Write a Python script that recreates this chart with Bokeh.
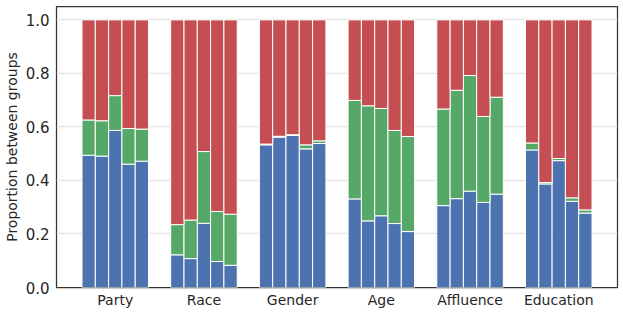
from bokeh.plotting import figure
from bokeh.models import FixedTicker, Range1d, ColumnDataSource
from bokeh.embed import file_html
from bokeh.resources import INLINE

categories = ["Party", "Race", "Gender", "Age", "Affluence", "Education"]

# share of each of the 5 subgroups per category (blue, green, red stack)
blue = [
    [0.494, 0.491, 0.587, 0.461, 0.472],   # Party
    [0.122, 0.108, 0.240, 0.097, 0.083],   # Race
    [0.533, 0.562, 0.568, 0.518, 0.538],   # Gender
    [0.331, 0.249, 0.268, 0.239, 0.209],   # Age
    [0.306, 0.332, 0.360, 0.318, 0.349],   # Affluence
    [0.514, 0.387, 0.474, 0.322, 0.278],   # Education
]
green = [
    [0.132, 0.132, 0.130, 0.133, 0.120],
    [0.113, 0.144, 0.268, 0.187, 0.191],
    [0.003, 0.003, 0.003, 0.015, 0.010],
    [0.368, 0.430, 0.401, 0.348, 0.355],
    [0.361, 0.405, 0.432, 0.321, 0.362],
    [0.026, 0.005, 0.008, 0.013, 0.012],
]
red = [
    [0.374, 0.377, 0.283, 0.406, 0.408],
    [0.765, 0.748, 0.492, 0.716, 0.726],
    [0.464, 0.435, 0.429, 0.467, 0.452],
    [0.301, 0.321, 0.331, 0.413, 0.436],
    [0.333, 0.263, 0.208, 0.361, 0.289],
    [0.460, 0.608, 0.518, 0.665, 0.710],
]
ticks_y = [0.0, 0.2, 0.4, 0.6, 0.8, 1.0]

colors = ["#4c72b0", "#55a868", "#c44e52"]
bar_w = 0.15
offsets = [-0.30, -0.15, 0.0, 0.15, 0.30]

xs, b_top, g_bot, g_top, r_bot, r_top = [], [], [], [], [], []
for gi in range(len(categories)):
    for j in range(5):
        xs.append(gi + offsets[j])
        b = blue[gi][j]
        g = green[gi][j]
        r = red[gi][j]
        b_top.append(b)
        g_bot.append(b)
        g_top.append(b + g)
        r_bot.append(b + g)
        r_top.append(b + g + r)

src = ColumnDataSource(dict(x=xs, b_top=b_top, g_bot=g_bot, g_top=g_top,
                            r_bot=r_bot, r_top=r_top, zero=[0.0] * len(xs)))

p = figure(width=623, height=314, output_backend="svg", toolbar_location=None,
           x_range=Range1d(-0.6625, 5.6625), y_range=Range1d(0, 1.05),
           min_border_left=54, min_border_right=6, min_border_top=6, min_border_bottom=27)

p.vbar(x="x", bottom="zero", top="b_top", width=bar_w, source=src,
       fill_color=colors[0], line_color="white", line_width=1)
p.vbar(x="x", bottom="g_bot", top="g_top", width=bar_w, source=src,
       fill_color=colors[1], line_color="white", line_width=1)
p.vbar(x="x", bottom="r_bot", top="r_top", width=bar_w, source=src,
       fill_color=colors[2], line_color="white", line_width=1)

p.xaxis.ticker = FixedTicker(ticks=list(range(len(categories))))
p.xaxis.major_label_overrides = {i: c for i, c in enumerate(categories)}
p.yaxis.ticker = FixedTicker(ticks=ticks_y)
p.yaxis.major_label_overrides = {t: f"{t:.1f}" for t in ticks_y}
p.yaxis.axis_label = "Proportion between groups"

for ax in (p.xaxis[0], p.yaxis[0]):
    ax.axis_line_color = None
    ax.major_tick_line_color = None
    ax.minor_tick_line_color = None
    ax.major_tick_out = 0
    ax.major_tick_in = 0
    ax.minor_tick_out = 0
    ax.minor_tick_in = 0
    ax.major_label_text_font = "DejaVu Sans"
    ax.major_label_text_color = "#262626"
p.xaxis.major_label_text_font_size = "14px"
p.yaxis.major_label_text_font_size = "15px"
p.xaxis.major_label_standoff = 4
p.xaxis.axis_label_standoff = 0
p.yaxis.major_label_standoff = 7
p.yaxis.axis_label_text_font = "DejaVu Sans"
p.yaxis.axis_label_text_font_size = "14px"
p.yaxis.axis_label_text_font_style = "normal"
p.yaxis.axis_label_text_color = "#262626"
p.yaxis.axis_label_standoff = 3

p.xgrid.grid_line_color = None
p.ygrid.grid_line_color = "#e5e5e5"
p.ygrid.grid_line_width = 1.5
p.outline_line_color = "#333333"
p.outline_line_width = 1.25
p.background_fill_color = "white"
p.border_fill_color = "white"

open("out.html", "w").write(file_html(p, INLINE))
